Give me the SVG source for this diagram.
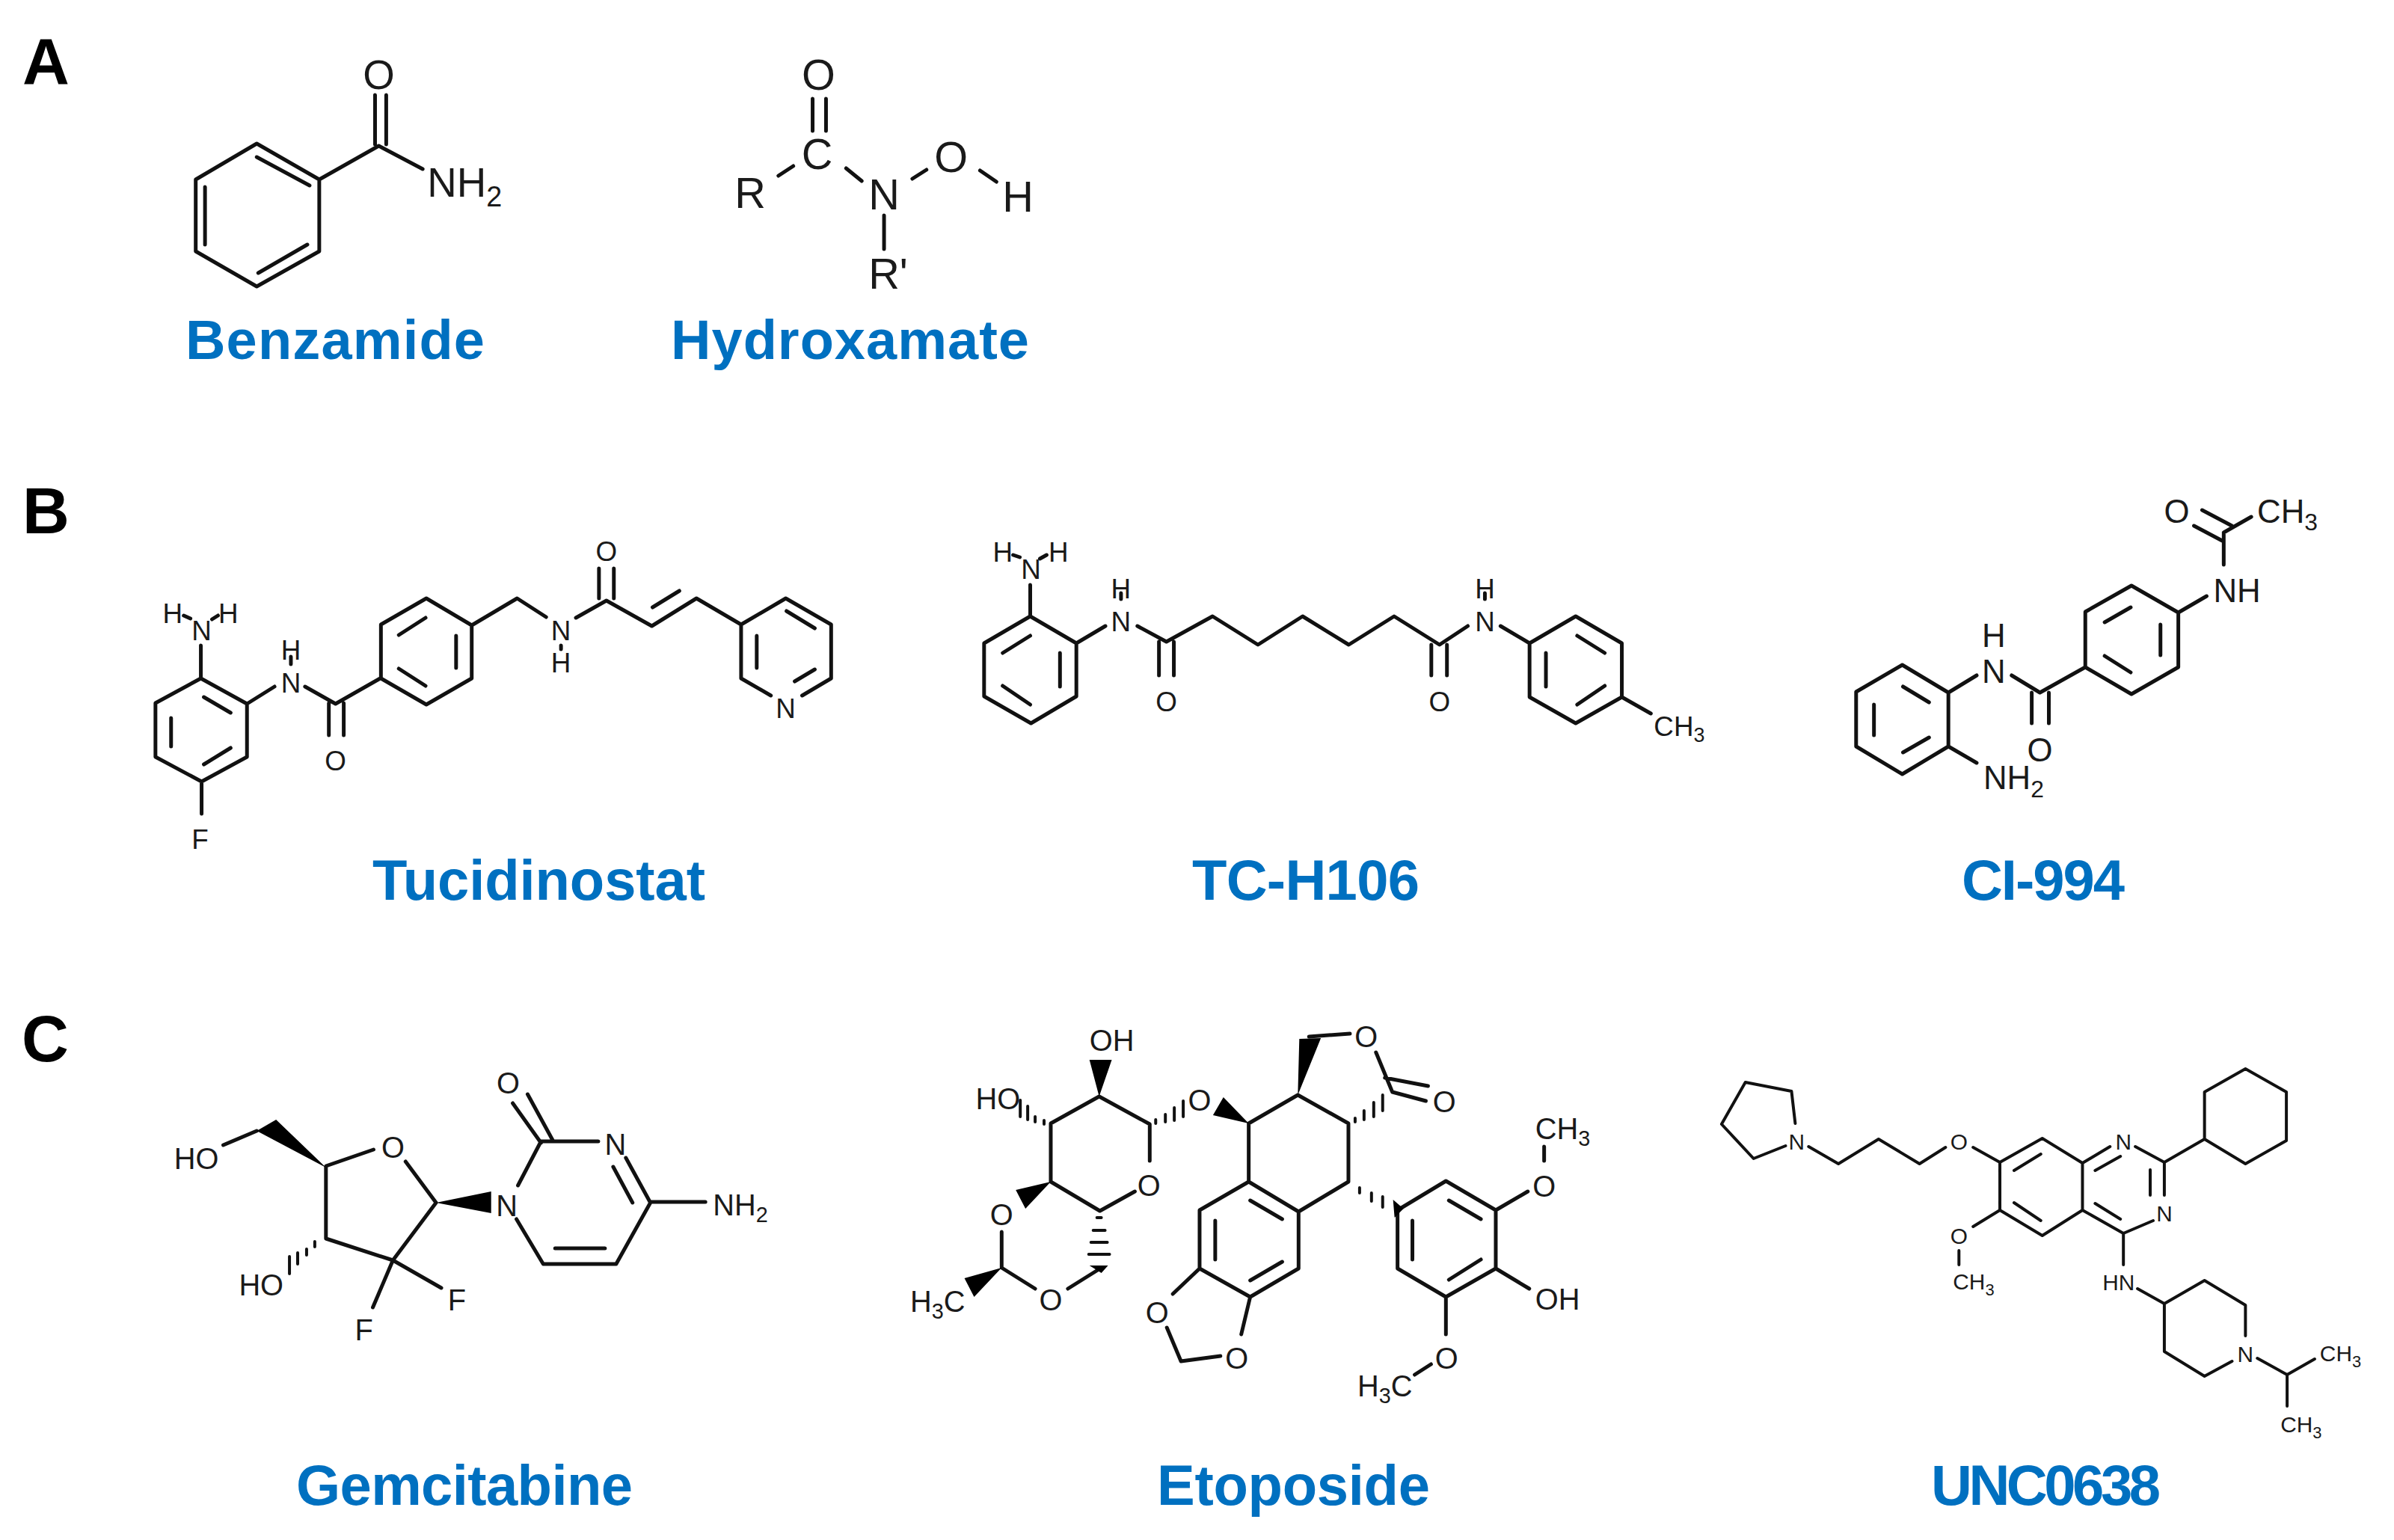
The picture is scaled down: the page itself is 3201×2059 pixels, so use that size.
<svg xmlns="http://www.w3.org/2000/svg" width="3201" height="2059" viewBox="0 0 3201 2059">
<style>
text{font-family:"Liberation Sans",Arial,sans-serif}
.b{fill:none;stroke:#111;stroke-width:5;stroke-linecap:round;stroke-linejoin:round}
.t{stroke-width:4}
.w{fill:#000}
.panel{font-weight:bold;font-size:87px;fill:#000}
.name{font-weight:bold;font-size:76px;fill:#0070C0}
.a{fill:#1a1a1a;text-anchor:middle}
.l{fill:#1a1a1a}
.f54{font-size:55px}.f58{font-size:58px}.f36{font-size:37px}.f44{font-size:44px}.f40{font-size:40px}.f30{font-size:30px}
.f38{font-size:38px}
</style>
<rect width="3201" height="2059" fill="#fff"/>
<g id="panel-labels">
<text class="panel" x="30" y="112">A</text>
<text class="panel" x="30" y="713">B</text>
<text class="panel" x="29" y="1419">C</text>
</g>
<g id="benzamide">
<g transform="matrix(.995 0 0 1 1 0)">
<path class="b" d="M344 192L428 240V336L344 383L262 336V240ZM344 210L415 248M274.500 250V327M346 365L412 327M428 240L508 195L567 226M503 127V193M518 127V193"/>
<text class="a f54" x="508" y="119">O</text>
<text class="l f54" x="573" y="263">NH<tspan class="f38" dy="13">2</tspan></text>
</g>
<text class="name" style="font-size:74px" x="248" y="480" textLength="400" lengthAdjust="spacing">Benzamide</text>
</g>
<g id="hydroxamate">
<g transform="matrix(.995 0 0 1 1 0)">
<path class="b" d="M1091 132V175M1109 132V175M1045 235L1065 222M1136 225L1157 242M1225 239L1244 227M1316 228L1338 243M1187 288V333"/>
<text class="a f58" x="1099" y="120">O</text>
<text class="a f58" x="1097" y="226">C</text>
<text class="a f58" x="1007" y="278">R</text>
<text class="a f58" x="1187" y="280">N</text>
<text class="a f58" x="1277" y="230">O</text>
<text class="a f58" x="1367" y="283">H</text>
<text class="l f58" x="1166" y="386">R'</text>
</g>
<text class="name" style="font-size:74px" x="897" y="480" textLength="479" lengthAdjust="spacing">Hydroxamate</text>
</g>
<g id="tucidinostat">
<g transform="matrix(.995 0 0 1 .9 0)">
<path class="b" d="M269 907L331 941V1012L270 1045L208 1012V940ZM273 932L309 953M273 1022L309 1000M229 960V998M269 907V863M246 823L255 827M284 828L292 823M270 1045V1088M331 941L368 918M390 878V888M409 918L450 941L510 907M441 940V983M461 940V983M572 800L633 836V907L572 942L511 907V835ZM535 849L571 826M612 850V893M535 894L571 917M633 836L694 800L733 825M753 863V868M773 826L814 803L875 837L935 800L995 835M804 760V800M824 760V800M876 812L912 790M1035 930L995 907V835L1055 800L1116 835V907L1077 930M1056 817L1094 840M1016 850V893M1067 911L1094 895"/>
<g class="f36">
<text class="a" x="270" y="856">N</text>
<text class="a" x="231" y="833">H</text>
<text class="a" x="306" y="833">H</text>
<text class="a" x="268" y="1135">F</text>
<text class="a" x="390" y="926">N</text>
<text class="a" x="390" y="882">H</text>
<text class="a" x="450" y="1030">O</text>
<text class="a" x="753" y="856">N</text>
<text class="a" x="753" y="899">H</text>
<text class="a" x="814" y="750">O</text>
<text class="a" x="1055" y="960">N</text>
</g>
</g>
<text class="name" x="498" y="1203" textLength="445" lengthAdjust="spacing">Tucidinostat</text>
</g>
<g id="tc-h106">
<g transform="matrix(.995 0 0 1 6.400 0)">
<path class="b" d="M1378 824L1440 860V931L1379 967L1316 931V860ZM1341 873L1378 850M1418 873V918M1341 917L1378 942M1378 782V824M1355 742L1364 745M1391 747L1400 742M1440 860L1479 837M1500 793V801M1522 837L1561 858L1623 824L1684 862L1744 824L1806 862L1867 824L1928 862L1966 837M1551 858V903M1571 858V903M1917 862V903M1938 862V903M1989 793V801M2010 837L2049 860M2111 824L2173 860V932L2111 967L2049 932V860ZM2113 850L2150 873M2071 873V918M2113 942L2150 917M2173 932L2212 954"/>
<g class="f36">
<text class="a" x="1379" y="774">N</text>
<text class="a" x="1341" y="751">H</text>
<text class="a" x="1416" y="751">H</text>
<text class="a" x="1500" y="844">N</text>
<text class="a" x="1500" y="800">H</text>
<text class="a" x="1561" y="951">O</text>
<text class="a" x="1928" y="951">O</text>
<text class="a" x="1989" y="844">N</text>
<text class="a" x="1989" y="800">H</text>
<text class="l" x="2216" y="984">CH<tspan font-size="27" dy="8">3</tspan></text>
</g>
</g>
<text class="name" x="1594" y="1203" textLength="304" lengthAdjust="spacing">TC-H106</text>
</g>
<g id="ci-994">
<g transform="matrix(.995 0 0 1 12.200 0)">
<path class="b" d="M2544 889L2606 926V998L2544 1035L2482 998V925ZM2545 918L2580 939M2506 942V983M2545 1006L2580 986M2606 926L2644 903M2691 903L2729 926L2790 892M2718 926V967M2741 926V967M2790 892V818L2852 783L2915 819V892L2852 928ZM2816 832L2851 812M2891 835V876M2816 877L2851 899M2915 819L2953 797M2976 755V712M2936 703L2974 723M2947 682L2987 703M2976 712L3013 691M2606 998L2644 1020"/>
<g class="f44">
<text class="a" x="2667" y="913">N</text>
<text class="a" x="2667" y="865">H</text>
<text class="a" x="2729" y="1018">O</text>
<text class="l" x="2962" y="805">NH</text>
<text class="a" x="2913" y="699">O</text>
<text class="l" x="3021" y="699">CH<tspan font-size="32" dy="10">3</tspan></text>
<text class="l" x="2653" y="1055">NH<tspan font-size="32" dy="11">2</tspan></text>
</g>
</g>
<text class="name" x="2623" y="1203" textLength="218" lengthAdjust="spacing">CI-994</text>
</g>
<g id="gemcitabine">
<g transform="matrix(.995 0 0 1 1 0)">
<path class="b" d="M501 1537L437 1559V1656L527 1685L585 1608L544 1553M344 1512L299 1531M527 1685L592 1722M527 1685L500 1748M695 1585L726 1526L803 1526M688 1475L726 1528M708 1463L742 1525M840 1548L873 1608L827 1690H729L693 1630M823 1560L849 1608M873 1607H947M745 1669H812"/>
<path class="b t" d="M422 1660V1667M411 1670V1678M399 1675V1690M388 1680V1703"/>
<path class="w" d="M437 1561L370 1497L344 1512ZM585 1608L659 1593V1622Z"/>
<g class="f40">
<text class="a" x="527" y="1548">O</text>
<text class="l" x="233" y="1563">HO</text>
<text class="l" x="320" y="1732">HO</text>
<text class="a" x="613" y="1752">F</text>
<text class="a" x="488" y="1792">F</text>
<text class="a" x="680" y="1626">N</text>
<text class="a" x="682" y="1462">O</text>
<text class="a" x="826" y="1544">N</text>
<text class="l" x="957" y="1625">NH<tspan font-size="29" dy="9">2</tspan></text>
</g>
</g>
<text class="name" x="396" y="2012" textLength="450" lengthAdjust="spacing">Gemcitabine</text>
</g>
<g id="etoposide">
<g transform="matrix(.995 0 0 1 6 0)">
<path class="b" d="M1539 1552V1503L1471 1466L1406 1502V1580L1472 1619L1519 1593M1340 1647V1695L1385 1723M1429 1723L1474 1695M1672 1502L1738 1464L1806 1502V1580L1739 1620L1672 1580ZM1739 1620V1696L1674 1734L1606 1696V1618L1672 1580M1674 1605L1717 1630M1627 1632V1684M1674 1712L1717 1687M1606 1696L1570 1730M1562 1775L1581 1820L1634 1813M1674 1734L1662 1784M1753 1386L1808 1382M1843 1407L1865 1460M1855 1441L1913 1452M1865 1460L1910 1472M1937 1579L2004 1618V1696L1937 1734L1872 1696V1618ZM1941 1605L1984 1630M1892 1632V1684M1941 1711L1984 1684M2004 1618L2047 1593M2069 1533V1552M2004 1696L2049 1723M1937 1734V1784M1917 1824L1895 1838"/>
<path class="b t" d="M1547 1497V1502M1560 1490V1500M1572 1481V1498M1584 1472V1493M1397 1498V1503M1385 1493V1500M1375 1479V1497M1365 1471V1493M1815 1495V1500M1827 1485V1497M1840 1474V1493M1852 1464V1485M1821 1588V1595M1837 1595V1606M1852 1600V1614M1468 1628H1474M1463 1645H1479M1460 1661H1482M1457 1677H1485"/>
<path class="w" d="M1471 1466L1458 1417H1488ZM1672 1502L1638 1467L1624 1491ZM1406 1580L1359 1591L1372 1616ZM1340 1695L1290 1709L1303 1734ZM1458 1692H1483L1474 1702ZM1738 1464L1740 1389L1769 1388ZM1866 1604L1880 1616L1868 1628Z"/>
<g class="f40">
<text class="l" x="1458" y="1405">OH</text>
<text class="l" x="1305" y="1483">HO</text>
<text class="a" x="1538" y="1599">O</text>
<text class="a" x="1606" y="1485">O</text>
<text class="a" x="1340" y="1638">O</text>
<text class="l" x="1217" y="1754">H<tspan font-size="29" dy="9">3</tspan><tspan dy="-9">C</tspan></text>
<text class="a" x="1406" y="1752">O</text>
<text class="a" x="1549" y="1769">O</text>
<text class="a" x="1656" y="1830">O</text>
<text class="a" x="1830" y="1400">O</text>
<text class="a" x="1935" y="1487">O</text>
<text class="a" x="2069" y="1600">O</text>
<text class="l" x="2057" y="1523">CH<tspan font-size="29" dy="9">3</tspan></text>
<text class="l" x="2057" y="1751">OH</text>
<text class="a" x="1938" y="1830">O</text>
<text class="l" x="1818" y="1867">H<tspan font-size="29" dy="9">3</tspan><tspan dy="-9">C</tspan></text>
</g>
</g>
<text class="name" x="1547" y="2012" textLength="365" lengthAdjust="spacing">Etoposide</text>
</g>
<g id="unc0638">
<g transform="matrix(.995 0 0 1 11.400 0)">
<path class="b t" d="M2401 1502L2396 1459L2334 1447L2302 1503L2345 1549L2388 1532M2419 1533L2459 1556L2513 1523L2568 1556L2603 1534M2640 1534L2676 1554M2676 1554L2733 1522L2787 1555V1618L2733 1652L2676 1618ZM2695 1565L2731 1543M2695 1608L2731 1632M2787 1555L2824 1533M2858 1533L2897 1554V1598M2804 1565L2838 1546M2878 1564V1598M2882 1632L2842 1649L2787 1618M2804 1609L2838 1630M2842 1649V1691M2861 1723L2897 1743L2951 1712L3006 1745V1786M2988 1820L2951 1840L2897 1807V1743M3022 1816L3062 1838L3099 1817M3062 1838V1880M2897 1554L2951 1523M2951 1523V1460L3006 1429L3061 1460V1525L3006 1556ZM2676 1618L2640 1640M2621 1672V1691"/>
<g class="f30">
<text class="a" x="2403" y="1537">N</text>
<text class="a" x="2621" y="1537">O</text>
<text class="a" x="2842" y="1537">N</text>
<text class="a" x="2897" y="1633">N</text>
<text class="l" x="2814" y="1725">HN</text>
<text class="a" x="3006" y="1821">N</text>
<text class="l" x="3106" y="1820">CH<tspan font-size="22" dy="8">3</tspan></text>
<text class="l" x="3053" y="1915">CH<tspan font-size="22" dy="8">3</tspan></text>
<text class="a" x="2621" y="1663">O</text>
<text class="l" x="2613" y="1724">CH<tspan font-size="22" dy="8">3</tspan></text>
</g>
</g>
<text class="name" x="2582" y="2012" textLength="307" lengthAdjust="spacing">UNC0638</text>
</g>
</svg>
